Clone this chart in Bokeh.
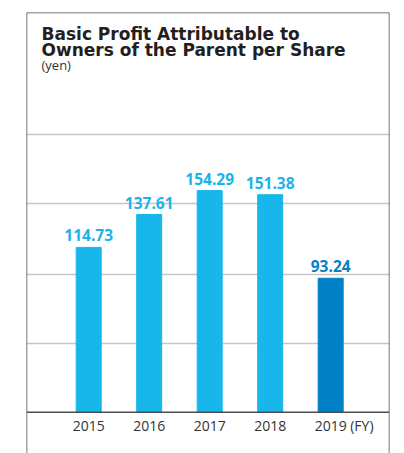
from bokeh.plotting import figure
from bokeh.models import Range1d, Span, FixedTicker, ColumnDataSource
from bokeh.core.properties import value
from bokeh.embed import file_html
from bokeh.resources import INLINE

years = ["2015", "2016", "2017", "2018", "2019"]
eps = [114.73, 137.61, 154.29, 151.38, 93.24]
bar_colors = ["#17b6eb", "#17b6eb", "#17b6eb", "#17b6eb", "#0080c6"]
label_colors = ["#1ab4e8", "#1ab4e8", "#1ab4e8", "#1ab4e8", "#0a7fc2"]
grid_ticks = [48, 96, 145, 193]
title_lines = ["Basic Profit Attributable to", "Owners of the Parent per Share"]
unit_label = "(yen)"
fy_label = "(FY)"

xs = list(range(len(years)))
src = ColumnDataSource(dict(x=xs, year=years, eps=eps, bc=bar_colors, lc=label_colors,
                            lbl=[f"{v:.2f}" for v in eps], zero=[0] * len(xs)))

x_range = Range1d(-1.028, 4.972)
y_range = Range1d(-28.7, 278.2)

p = figure(width=404, height=453, x_range=x_range, y_range=y_range,
           output_backend="svg", toolbar_location=None,
           x_axis_location=None, y_axis_location=None,
           min_border_left=26, min_border_right=15, min_border_top=12, min_border_bottom=0)
p.outline_line_color = None
p.background_fill_color = "white"
p.border_fill_color = "white"

p.xgrid.visible = False
p.ygrid.ticker = FixedTicker(ticks=grid_ticks)
p.ygrid.grid_line_color = "#c6c6c6"
p.ygrid.grid_line_width = 1.3

p.vbar(x="x", top="eps", width=0.413, color="bc", source=src)

# baseline and box
p.add_layout(Span(location=0, dimension="width", line_color="#4d4d4d", line_width=1.6))
p.add_layout(Span(location=x_range.start, dimension="height", line_color="#4a4a4a", line_width=1.5))
p.add_layout(Span(location=x_range.end, dimension="height", line_color="#4a4a4a", line_width=1.5))
p.add_layout(Span(location=y_range.end, dimension="width", line_color="#4a4a4a", line_width=1.5))

# value labels
p.text(x="x", y="eps", text="lbl", source=src, text_color="lc",
       text_font=value("Open Sans"), text_font_style="bold", text_font_size="15.5px",
       text_align="center", text_baseline="alphabetic", y_offset=-12)

# year labels
p.text(x="x", y="zero", text="year", source=src, text_color="#333333",
       text_font=value("Open Sans"), text_font_size="14px",
       text_align="center", text_baseline="alphabetic", y_offset=13.5)
p.text(x=[xs[-1]], y=[0], text=[fy_label], text_color="#333333",
       text_font=value("Open Sans"), text_font_size="14px",
       text_align="left", text_baseline="alphabetic", x_offset=19.5, y_offset=13.5)

# title
for i, line in enumerate(title_lines):
    p.text(x=[x_range.start], y=[y_range.end], text=[line], text_color="#231f20",
           text_font=value("DejaVu Sans"), text_font_style="bold", text_font_size="17px",
           text_align="left", text_baseline="alphabetic", x_offset=15, y_offset=21.5 + 15.7 * i)
p.text(x=[x_range.start], y=[y_range.end], text=[unit_label], text_color="#333333",
       text_font=value("Open Sans"), text_font_size="13px",
       text_align="left", text_baseline="alphabetic", x_offset=15, y_offset=52.5)

open("out.html", "w").write(file_html(p, INLINE))
